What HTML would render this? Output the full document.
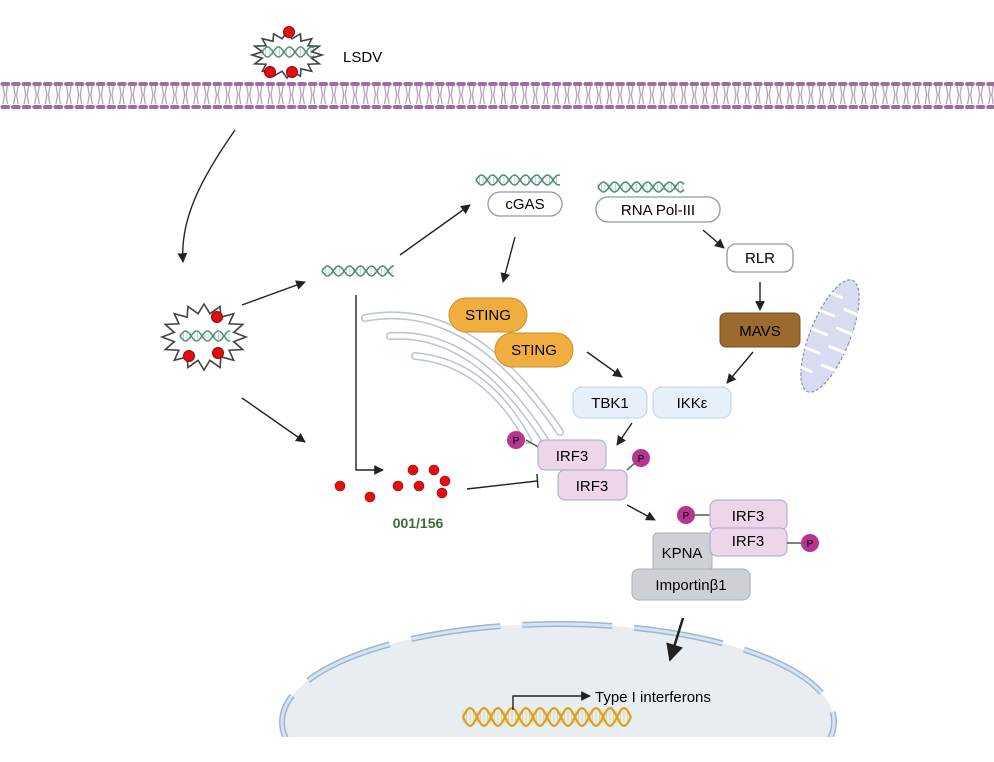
<!DOCTYPE html>
<html><head><meta charset="utf-8"><style>
html,body{margin:0;padding:0;background:#fff;width:994px;height:762px;overflow:hidden}
svg{display:block}
text{font-family:"Liberation Sans",sans-serif}
</style></head><body>
<svg id="s" width="994" height="762" viewBox="0 0 994 762" xmlns="http://www.w3.org/2000/svg">
<defs>
<marker id="ar" viewBox="0 0 10 10" refX="9" refY="5" markerWidth="7" markerHeight="7" orient="auto"><path d="M0,0 L10,5 L0,10 z" fill="#222"/></marker>
<pattern id="mem" x="0" y="80" width="10.6" height="32" patternUnits="userSpaceOnUse">
<rect x="0.5" y="2" width="9.6" height="4" rx="2" fill="#9a6fa0"/>
<rect x="0.5" y="25" width="9.6" height="4" rx="2" fill="#9a6fa0"/>
<path d="M3,6 L4.5,15 L3,24 M7.5,6 L6,15 L7.5,24" stroke="#b894bc" stroke-width="1.2" fill="none"/>
</pattern>
<clipPath id="nc"><rect x="0" y="0" width="994" height="737"/></clipPath>
</defs>
<rect x="0" y="80" width="994" height="32" fill="url(#mem)"/>

<!-- nucleus -->
<g clip-path="url(#nc)">
<ellipse cx="558" cy="722" rx="276" ry="98" fill="#e8edf2"/>
<ellipse cx="558" cy="722" rx="276" ry="98" fill="none" stroke="#9fb6cf" stroke-width="6" stroke-dasharray="90 22"/>
<ellipse cx="558" cy="722" rx="276" ry="98" fill="none" stroke="#d6e4f2" stroke-width="3" stroke-dasharray="90 22"/>
</g>

<g id="g"></g>

<!-- ER -->
<g fill="none" stroke-linecap="round">
<path d="M365,318 Q470,298 560,432" stroke="#b7c3d6" stroke-width="8"/>
<path d="M365,318 Q470,298 560,432" stroke="#fff" stroke-width="5"/>
<path d="M390,336 Q475,330 545,440" stroke="#b7c3d6" stroke-width="8"/>
<path d="M390,336 Q475,330 545,440" stroke="#fff" stroke-width="5"/>
<path d="M415,356 Q485,362 528,440" stroke="#b7c3d6" stroke-width="8"/>
<path d="M415,356 Q485,362 528,440" stroke="#fff" stroke-width="5"/>
</g>

<!-- mitochondrion -->
<g transform="rotate(22 830 336)">
<ellipse cx="830" cy="336" rx="20" ry="60" fill="#d8dcf0" stroke="#8a8ea6" stroke-width="1.2" stroke-dasharray="3 2"/>
<g stroke="#fff" stroke-width="3" stroke-linecap="round">
<line x1="810" y1="296" x2="826" y2="296"/><line x1="834" y1="306" x2="850" y2="306"/>
<line x1="810" y1="316" x2="826" y2="316"/><line x1="834" y1="326" x2="850" y2="326"/>
<line x1="810" y1="336" x2="826" y2="336"/><line x1="834" y1="346" x2="850" y2="346"/>
<line x1="810" y1="356" x2="826" y2="356"/><line x1="834" y1="366" x2="850" y2="366"/>
<line x1="812" y1="376" x2="826" y2="376"/>
</g></g>

<!-- arrows -->
<g stroke="#222" stroke-width="1.4" fill="none" marker-end="url(#ar)">
<path d="M235,130 C200,180 180,220 183,262"/>
<path d="M242,305 L305,282"/>
<path d="M400,255 L470,205"/>
<path d="M242,398 L305,442"/>
<path d="M515,237 L503,282"/>
<path d="M703,230 L724,248"/>
<path d="M760,282 L760,310"/>
<path d="M753,352 L727,383"/>
<path d="M587,352 L622,377"/>
<path d="M632,423 L617,445"/>
<path d="M356,295 L356,470 L383,470"/>
<path d="M627,505 L655,520"/>
<path d="M683,618 L670,660" stroke-width="2.5"/>
<path d="M513,710 L513,696 L590,696"/>
</g>
<path d="M467,489 L537,481 M537,474 L538,488" stroke="#222" stroke-width="1.4"/>

<!-- boxes -->
<g font-size="15" text-anchor="middle">
<rect x="488" y="192" width="74" height="24" rx="12" fill="#fff" stroke="#8c99ad" stroke-width="1.3"/><text x="525" y="209">cGAS</text>
<rect x="596" y="197" width="124" height="25" rx="12" fill="#fff" stroke="#8c99ad" stroke-width="1.3"/><text x="658" y="215">RNA Pol-III</text>
<rect x="727" y="244" width="66" height="28" rx="9" fill="#fff" stroke="#8c99ad" stroke-width="1.3"/><text x="760" y="263">RLR</text>
<rect x="720" y="313" width="80" height="34" rx="6" fill="#9b6a2e" stroke="#7a5020"/><text x="760" y="336">MAVS</text>
<rect x="449" y="298" width="78" height="34" rx="17" fill="#efae3e" stroke="#c88f2e"/><text x="488" y="320">STING</text>
<rect x="495" y="333" width="78" height="34" rx="17" fill="#efae3e" stroke="#c88f2e"/><text x="534" y="355">STING</text>
<rect x="573" y="387" width="74" height="31" rx="9" fill="#e6f0f8" stroke="#bcd0e4"/><text x="610" y="408">TBK1</text>
<rect x="653" y="387" width="78" height="31" rx="9" fill="#e6f0f8" stroke="#bcd0e4"/><text x="692" y="408">IKKε</text>
<line x1="526" y1="440" x2="540" y2="448" stroke="#555" stroke-width="1.5"/>
<circle cx="516" cy="440" r="9" fill="#b5368e"/><text x="516" y="444" font-size="10">P</text>
<rect x="538" y="440" width="68" height="30" rx="7" fill="#ecd6e8" stroke="#a3a9c8"/><text x="572" y="461">IRF3</text>
<rect x="558" y="470" width="69" height="30" rx="7" fill="#ecd6e8" stroke="#a3a9c8"/><text x="592" y="491">IRF3</text>
<line x1="627" y1="470" x2="636" y2="462" stroke="#555" stroke-width="1.5"/>
<circle cx="641" cy="458" r="9" fill="#b5368e"/><text x="641" y="462" font-size="10">P</text>
<rect x="653" y="533" width="59" height="38" rx="5" fill="#cdd1d6" stroke="#a8aeb6"/><text x="682" y="558">KPNA</text>
<rect x="632" y="569" width="118" height="31" rx="7" fill="#cdd1d6" stroke="#a8aeb6"/><text x="691" y="590">Importinβ1</text>
<line x1="695" y1="515" x2="710" y2="515" stroke="#555" stroke-width="1.5"/>
<circle cx="686" cy="515" r="9" fill="#b5368e"/><text x="686" y="519" font-size="10">P</text>
<rect x="710" y="500" width="77" height="30" rx="7" fill="#ecd6e8" stroke="#a3a9c8"/><text x="748" y="521">IRF3</text>
<rect x="710" y="528" width="77" height="28" rx="7" fill="#ecd6e8" stroke="#a3a9c8"/><text x="748" y="546">IRF3</text>
<line x1="787" y1="543" x2="801" y2="543" stroke="#555" stroke-width="1.5"/>
<circle cx="810" cy="543" r="9" fill="#b5368e"/><text x="810" y="547" font-size="10">P</text>
</g>

<text x="343" y="62" font-size="15">LSDV</text>
<text x="418" y="528" font-size="14" font-weight="bold" fill="#3f6a3a" text-anchor="middle">001/156</text>
<text x="595" y="702" font-size="15">Type I interferons</text>

<g fill="#e01010" stroke="#a00" stroke-width="0.6">
<circle cx="340" cy="486" r="5"/><circle cx="370" cy="497" r="5"/><circle cx="398" cy="486" r="5"/>
<circle cx="413" cy="470" r="5"/><circle cx="434" cy="470" r="5"/><circle cx="419" cy="486" r="5"/>
<circle cx="445" cy="481" r="5"/><circle cx="442" cy="493" r="5"/>
</g>
</svg>
<script>
var NS="http://www.w3.org/2000/svg",g=document.getElementById('g');
function el(t,a){var e=document.createElementNS(NS,t);for(var k in a)e.setAttribute(k,a[k]);g.appendChild(e);return e;}
function star(cx,cy,rx,ry,n){var p=[];for(var i=0;i<2*n;i++){var a=Math.PI*i/n,f=i%2?0.72:1;p.push((cx+rx*f*Math.cos(a)).toFixed(1)+','+(cy+ry*f*Math.sin(a)).toFixed(1));}
el('polygon',{points:p.join(' '),fill:'#fff',stroke:'#444','stroke-width':1.6});}
function dna(x,y,w,h,c,lw,per){per=per||22;var d1='',d2='',n=80;for(var i=0;i<=n;i++){var x1=x+w*i/n,ph=i/n*Math.PI*2*(w/per);d1+=(i?'L':'M')+x1.toFixed(1)+','+(y+h*Math.sin(ph)).toFixed(1);d2+=(i?'L':'M')+x1.toFixed(1)+','+(y-h*Math.sin(ph)).toFixed(1);}
el('path',{d:d1,stroke:c,'stroke-width':lw,fill:'none'});el('path',{d:d2,stroke:c,'stroke-width':lw,fill:'none'});
for(var j=0;j<w;j+=3.5)el('line',{x1:x+j,x2:x+j,y1:y-h*0.7,y2:y+h*0.7,stroke:c,'stroke-width':0.6,opacity:0.6});}
star(287,55,35,23,16);dna(262,52,52,5,'#4f8a78',1.4);
[[289,32],[270,72],[292,72]].forEach(function(p){el('circle',{cx:p[0],cy:p[1],r:5.5,fill:'#e01010',stroke:'#900'})});
star(204,337,42,33,16);dna(180,336,50,5,'#4f8a78',1.4);
[[217,317],[189,356],[218,353]].forEach(function(p){el('circle',{cx:p[0],cy:p[1],r:5.5,fill:'#e01010',stroke:'#900'})});
dna(322,271,72,5,'#4f8a78',1.5);dna(476,180,84,5,'#4f8a78',1.5);dna(598,187,86,5,'#4f8a78',1.5);
dna(463,717,168,9,'#d9a21a',2.2,28);
</script>
</body></html>
